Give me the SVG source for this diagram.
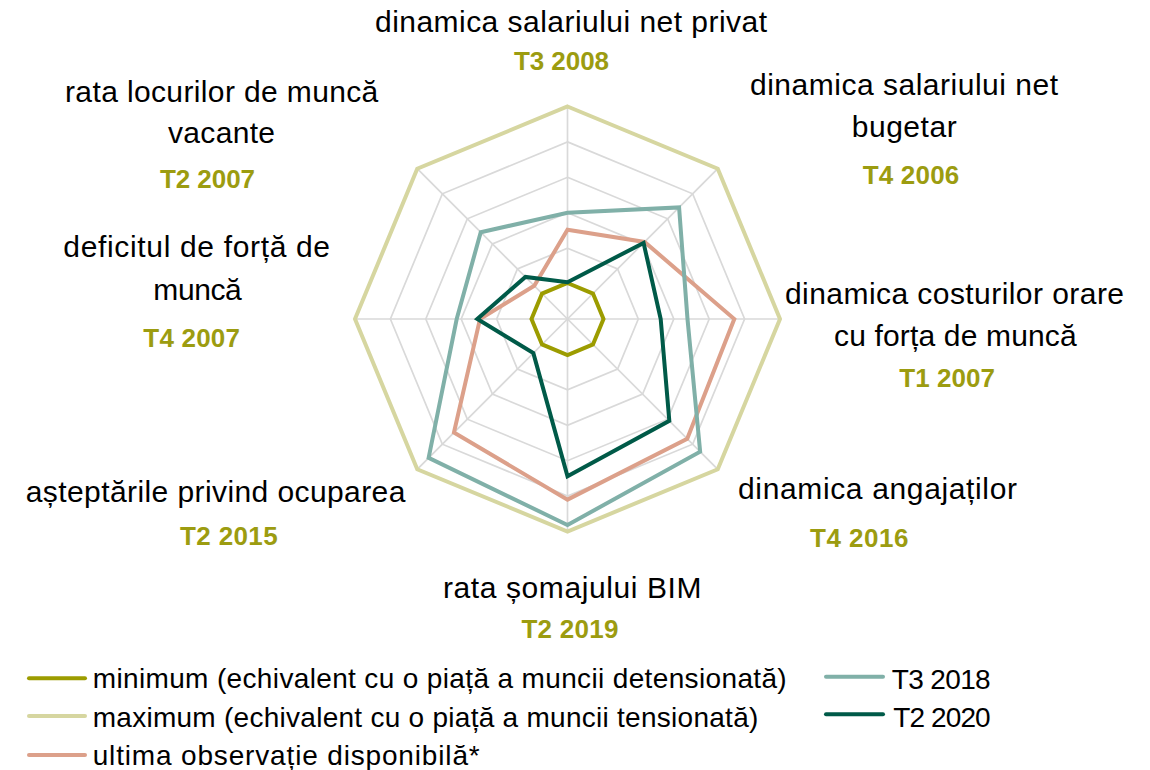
<svg xmlns="http://www.w3.org/2000/svg" width="1150" height="770" viewBox="0 0 1150 770">
<style>
text{font-family:"Liberation Sans",Arial,sans-serif;fill:#000}
.lab{font-size:30px}
.dt{font-size:26px;font-weight:bold;fill:#9c9c10}
.leg{font-size:28px}
.grid{fill:none;stroke:#d9d9d9;stroke-width:1.7}
.s{fill:none;stroke-width:4;stroke-linejoin:miter}
.ls{stroke-width:4;stroke-linecap:round}
.min{stroke:#9c9c00}
.max{stroke:#d6d6a0}
.ult{stroke:#dca08a}
.t18{stroke:#80b0a8}
.t20{stroke:#005a48}
</style>
<rect width="1150" height="770" fill="#fff"/>
<g id="grid" class="grid">
<polygon points="567.5,283.6 592.5,293.5 602.9,319 592.5,344.0 567.5,354.4 542.5,344.0 532.1,319 542.5,293.5"/>
<polygon points="567.5,248.2 617.6,268.9 638.3,319 617.6,369.1 567.5,389.8 517.4,369.1 496.7,319 517.4,268.9"/>
<polygon points="567.5,212.7 642.6,243.9 673.8,319 642.6,394.1 567.5,425.3 492.4,394.1 461.2,319 492.4,243.9"/>
<polygon points="567.5,177.3 667.7,218.8 709.2,319 667.7,419.2 567.5,460.7 467.3,419.2 425.8,319 467.3,218.8"/>
<polygon points="567.5,141.9 692.7,193.8 744.6,319 692.7,444.2 567.5,496.1 442.3,444.2 390.4,319 442.3,193.8"/>
<polygon points="567.5,106.5 717.8,168.7 780,319 717.8,469.3 567.5,531.5 417.2,469.3 355,319 417.2,168.7"/>
</g>
<g id="connectors" class="grid">
<line x1="567.5" y1="319" x2="567.5" y2="106.5"/>
<line x1="567.5" y1="319" x2="717.8" y2="168.7"/>
<line x1="567.5" y1="319" x2="780" y2="319"/>
<line x1="567.5" y1="319" x2="717.8" y2="469.3"/>
<line x1="567.5" y1="319" x2="567.5" y2="531.5"/>
<line x1="567.5" y1="319" x2="417.2" y2="469.3"/>
<line x1="567.5" y1="319" x2="355" y2="319"/>
<line x1="567.5" y1="319" x2="417.2" y2="168.7"/>
</g>
<g id="series-min"><polygon class="s min" points="567.5,283 592.96,293.54 603.5,319 592.96,344.46 567.5,355 542.04,344.46 531.5,319 542.04,293.54"/></g>
<g id="series-max"><polygon class="s max" points="567.5,106.5 717.76,168.74 780,319 717.76,469.26 567.5,531.5 417.24,469.26 355,319 417.24,168.74"/></g>
<g id="series-ultima"><polygon class="s ult" points="567.5,229.7 644.57,241.93 734.3,319 687.21,438.71 567.5,499.6 453.94,432.56 480,319 534.27,285.77"/></g>
<g id="series-t3-2018"><polygon class="s t18" points="567.5,212.7 679.08,207.42 687.5,319 700.15,451.65 567.5,525 428.63,457.87 456.7,319 480.74,232.24"/></g>
<g id="series-t2-2020"><polygon class="s t20" points="567.5,282.3 643.58,242.92 660.7,319 669.32,420.82 567.5,476.3 533.35,353.15 477.3,319 525.43,276.93"/></g>

<g id="label-top">
<text class="lab" x="375" y="31.7" textLength="392">dinamica salariului net privat</text>
<text class="dt" x="514" y="70" textLength="95">T3 2008</text>
</g>
<g id="label-top-right">
<text class="lab" x="750" y="95" textLength="308">dinamica salariului net</text>
<text class="lab" x="851.7" y="137" textLength="105">bugetar</text>
<text class="dt" x="862.7" y="184" textLength="96.6">T4 2006</text>
</g>
<g id="label-right">
<text class="lab" x="785" y="304" textLength="339">dinamica costurilor orare</text>
<text class="lab" x="834" y="346" textLength="242.7">cu forța de muncă</text>
<text class="dt" x="899.3" y="386.7" textLength="95.7">T1 2007</text>
</g>
<g id="label-bottom-right">
<text class="lab" x="738" y="499" textLength="279">dinamica angajaților</text>
<text class="dt" x="810" y="547" textLength="98.5">T4 2016</text>
</g>
<g id="label-bottom">
<text class="lab" x="443" y="598" textLength="258.4">rata șomajului BIM</text>
<text class="dt" x="521.4" y="638" textLength="97">T2 2019</text>
</g>
<g id="label-bottom-left">
<text class="lab" x="25.7" y="501.7" textLength="379.7">așteptările privind ocuparea</text>
<text class="dt" x="180" y="545" textLength="97.6">T2 2015</text>
</g>
<g id="label-left">
<text class="lab" x="63.3" y="256.7" textLength="266.7">deficitul de forță de</text>
<text class="lab" x="153.3" y="300" textLength="88.4">muncă</text>
<text class="dt" x="143.3" y="346.7" textLength="96.7">T4 2007</text>
</g>
<g id="label-top-left">
<text class="lab" x="65" y="101.7" textLength="313.3">rata locurilor de muncă</text>
<text class="lab" x="168" y="143.3" textLength="107">vacante</text>
<text class="dt" x="160" y="188.3" textLength="95">T2 2007</text>
</g>

<g id="legend">
<line class="ls min" x1="29" y1="678.3" x2="85" y2="678.3"/>
<text class="leg" x="92.7" y="688.3" textLength="694">minimum (echivalent cu o piață a muncii detensionată)</text>
<line class="ls max" x1="29" y1="716" x2="85" y2="716"/>
<text class="leg" x="92.7" y="726.7" textLength="665.6">maximum (echivalent cu o piață a muncii tensionată)</text>
<line class="ls ult" x1="29" y1="755" x2="85" y2="755"/>
<text class="leg" x="92.7" y="765" textLength="387">ultima observație disponibilă*</text>
<line class="ls t18" x1="826" y1="676.7" x2="883" y2="676.7"/>
<text class="leg" x="891.7" y="689.3" textLength="99">T3 2018</text>
<line class="ls t20" x1="826" y1="714.3" x2="883" y2="714.3"/>
<text class="leg" x="893.3" y="726.7" textLength="97.4">T2 2020</text>
</g>
</svg>
